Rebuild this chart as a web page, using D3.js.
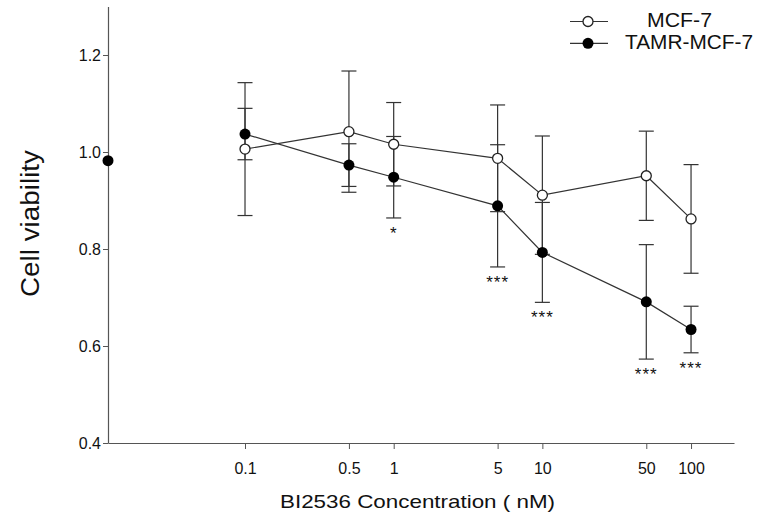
<!DOCTYPE html>
<html><head><meta charset="utf-8">
<script src="https://cdn.jsdelivr.net/npm/d3@7"></script>
<style>body{margin:0;background:#fff}svg{display:block}text{font-family:"Liberation Sans",Arial,sans-serif;fill:#111}</style>
</head><body><svg id="c" width="758" height="517"></svg>
<script>
// Data
const concentrations = [0.1, 0.5, 1, 5, 10, 50, 100];
const tickLabels = ["0.1", "0.5", "1", "5", "10", "50", "100"];
const yTicks = [0.4, 0.6, 0.8, 1.0, 1.2];
const mcf7Mean = [1.006, 1.042, 1.016, 0.987, 0.911, 0.951, 0.862];
const mcf7Err  = [0.137, 0.125, 0.086, 0.110, 0.122, 0.092, 0.112];
const tamrMean = [1.037, 0.973, 0.948, 0.889, 0.793, 0.691, 0.634];
const tamrErr  = [0.053, 0.044, 0.084, 0.126, 0.103, 0.118, 0.048];
const controlValue = 0.982;
const stars = ["", "", "*", "***", "***", "***", "***"];
const seriesNames = ["MCF-7", "TAMR-MCF-7"];

const svg = d3.select("#c");
const x = d3.scaleLog().domain([0.01198, 194.5]).range([108, 734]);
const y = d3.scaleLinear().domain([0.4, 1.3]).range([443, 6.5]);
const ink = "#333";

// axes
const yAxis = d3.axisLeft(y).tickValues(yTicks).tickFormat(d3.format(".1f")).tickSize(5).tickSizeOuter(0);
const gy = svg.append("g").attr("transform", "translate(108,0)").call(yAxis);
gy.select(".domain").attr("stroke", "#555").attr("stroke-width", 1.2);
gy.selectAll(".tick line").attr("stroke", "#555");
gy.selectAll(".tick text").attr("font-size", 16).attr("x", -7).attr("fill", "#222")
  .style("font-family", '"Liberation Sans",Arial,sans-serif');

const xAxis = d3.axisBottom(x).tickValues(concentrations).tickFormat((d, i) => tickLabels[i]).tickSize(6).tickSizeOuter(0);
const gx = svg.append("g").attr("transform", "translate(0,443)").call(xAxis);
gx.select(".domain").attr("stroke", "#555").attr("stroke-width", 1.2);
gx.selectAll(".tick line").attr("stroke", "#555");
gx.selectAll(".tick text").attr("font-size", 16).attr("y", 20).attr("fill", "#222")
  .style("font-family", '"Liberation Sans",Arial,sans-serif');

// titles
svg.append("text").attr("x", 280).attr("y", 508).attr("font-size", 18.5)
  .attr("textLength", 275).attr("lengthAdjust", "spacingAndGlyphs").text("BI2536 Concentration ( nM)");
svg.append("text").attr("transform", "translate(39,297) rotate(-90)").attr("font-size", 25)
  .attr("textLength", 147).attr("lengthAdjust", "spacingAndGlyphs").text("Cell viability");

const line = d3.line().x((d, i) => x(concentrations[i])).y(d => y(d));
const cap = 7.5;
function errBars(means, errs) {
  const g = svg.append("g").attr("stroke", ink).attr("stroke-width", 1.2);
  means.forEach((m, i) => {
    const cx = x(concentrations[i]);
    g.append("line").attr("x1", cx).attr("x2", cx).attr("y1", y(m + errs[i])).attr("y2", y(m - errs[i]));
    [m + errs[i], m - errs[i]].forEach(v =>
      g.append("line").attr("x1", cx - cap).attr("x2", cx + cap).attr("y1", y(v)).attr("y2", y(v)));
  });
}
errBars(mcf7Mean, mcf7Err);
errBars(tamrMean, tamrErr);

svg.append("path").datum(mcf7Mean).attr("d", line).attr("fill", "none").attr("stroke", ink).attr("stroke-width", 1.2);
svg.append("path").datum(tamrMean).attr("d", line).attr("fill", "none").attr("stroke", ink).attr("stroke-width", 1.2);

svg.selectAll(".m").data(mcf7Mean).enter().append("circle")
  .attr("cx", (d, i) => x(concentrations[i])).attr("cy", d => y(d)).attr("r", 5)
  .attr("fill", "#fff").attr("stroke", "#222").attr("stroke-width", 1.3);
svg.selectAll(".t").data(tamrMean).enter().append("circle")
  .attr("cx", (d, i) => x(concentrations[i])).attr("cy", d => y(d)).attr("r", 5.5)
  .attr("fill", "#000");
svg.append("circle").attr("cx", x(x.domain()[0])).attr("cy", y(controlValue)).attr("r", 5.5).attr("fill", "#000");

// significance stars
svg.selectAll(".s").data(stars).enter().append("text")
  .attr("x", (d, i) => x(concentrations[i])).attr("y", (d, i) => y(tamrMean[i] - tamrErr[i]) + 21)
  .attr("text-anchor", "middle").attr("font-size", 17).attr("letter-spacing", 1).text(d => d);

// legend
const leg = svg.append("g");
[[21.5, 27, 647, 65, false], [43.3, 48.5, 625, 128, true]].forEach((r, k) => {
  leg.append("line").attr("x1", 570).attr("x2", 608).attr("y1", r[0]).attr("y2", r[0]).attr("stroke", ink).attr("stroke-width", 1.2);
  leg.append("circle").attr("cx", 588).attr("cy", r[0]).attr("r", r[4] ? 5.5 : 5)
    .attr("fill", r[4] ? "#000" : "#fff").attr("stroke", r[4] ? "none" : "#222").attr("stroke-width", 1.3);
  leg.append("text").attr("x", r[2]).attr("y", r[1]).attr("font-size", 19.5)
    .attr("textLength", r[3]).attr("lengthAdjust", "spacingAndGlyphs").text(seriesNames[k]);
});
</script></body></html>
